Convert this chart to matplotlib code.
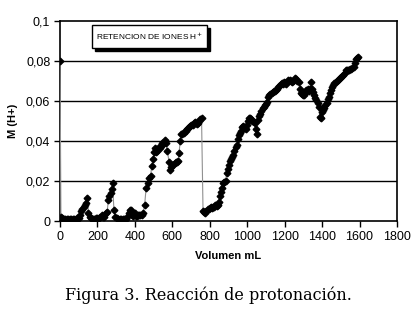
import matplotlib.pyplot as plt
from matplotlib.patches import Rectangle

plt.rcParams['font.family'] = ['Liberation Sans', 'DejaVu Sans']

# Volumen (mL) y M (H+)
volumen = [
    0, 5, 12, 20, 28, 36, 44, 52, 60, 68, 76, 84, 92, 100, 108, 114, 120, 126, 132, 138,
    145, 152, 160, 168, 176, 184, 192, 200, 208, 216, 222, 228, 236, 244, 252, 258, 264, 270, 276, 281,
    288, 296, 304, 312, 320, 328, 336, 344, 352, 360, 368, 374, 380, 386, 392, 398, 404, 410, 416, 422,
    428, 436, 444, 452, 460, 468, 476, 484, 490, 497, 503, 508, 514, 520, 527, 534, 540, 546, 552, 560,
    566, 574, 582, 588, 594, 600, 606, 612, 618, 624, 630, 636, 642, 648, 654, 660, 666, 672, 678, 684,
    690, 696, 702, 708, 714, 720, 726, 732, 738, 744, 750, 756, 764, 770, 776, 782, 788, 794, 800, 806,
    812, 818, 824, 830, 836, 842, 848, 854, 860, 866, 872, 878, 884, 890, 896, 902, 908, 914, 920, 926,
    932, 938, 944, 950, 956, 962, 968, 974, 980, 986, 992, 998, 1004, 1010, 1016, 1022, 1028, 1034, 1040, 1046,
    1052, 1058, 1064, 1070, 1076, 1082, 1088, 1094, 1100, 1106, 1112, 1118, 1124, 1130, 1136, 1142, 1148, 1154, 1160, 1166,
    1172, 1178, 1184, 1190, 1196, 1202, 1208, 1214, 1220, 1226, 1232, 1238, 1244, 1250, 1256, 1262, 1268, 1274, 1280, 1286,
    1292, 1298, 1304, 1310, 1316, 1322, 1328, 1334, 1340, 1346, 1352, 1358, 1364, 1370, 1376, 1382, 1388, 1394, 1400, 1406,
    1412, 1418, 1424, 1430, 1436, 1442, 1448, 1454, 1460, 1466, 1472, 1478, 1484, 1490, 1496, 1502, 1508, 1514, 1520, 1526,
    1532, 1538, 1544, 1550, 1556, 1562, 1568, 1574, 1580, 1586, 1592,
]
m_h = [
    0.080, 0.002, 0.0015, 0.0012, 0.0012, 0.0012, 0.0012, 0.0012, 0.0012, 0.0012, 0.0012, 0.0012, 0.0013, 0.0015, 0.003, 0.005, 0.006, 0.007, 0.008, 0.009,
    0.0115, 0.004, 0.002, 0.0015, 0.0012, 0.0012, 0.0013, 0.0015, 0.0015, 0.002, 0.003, 0.002, 0.002, 0.004, 0.0045, 0.0105, 0.0125, 0.014, 0.016, 0.019,
    0.0055, 0.002, 0.0015, 0.0012, 0.0012, 0.0012, 0.0012, 0.0012, 0.0008, 0.002, 0.004, 0.0055, 0.0055, 0.003, 0.0025, 0.004, 0.0025, 0.0025, 0.003, 0.003,
    0.003, 0.003, 0.004, 0.008, 0.0165, 0.019, 0.0215, 0.0225, 0.0275, 0.031, 0.0345, 0.0365, 0.0345, 0.035, 0.037, 0.0365, 0.0375, 0.039, 0.0385, 0.0405,
    0.039, 0.035, 0.0295, 0.0255, 0.027, 0.028, 0.028, 0.029, 0.0295, 0.0295, 0.030, 0.034, 0.040, 0.0435, 0.0435, 0.044, 0.045, 0.045, 0.046, 0.0465,
    0.047, 0.0475, 0.048, 0.048, 0.049, 0.0495, 0.049, 0.0485, 0.049, 0.050, 0.051, 0.0515, 0.005, 0.0045, 0.004, 0.005, 0.006, 0.006, 0.0065, 0.007,
    0.0065, 0.007, 0.007, 0.008, 0.0075, 0.008, 0.0095, 0.0125, 0.0145, 0.0165, 0.019, 0.0195, 0.020, 0.024, 0.026, 0.028, 0.030, 0.031, 0.032, 0.033,
    0.035, 0.037, 0.038, 0.041, 0.043, 0.044, 0.045, 0.047, 0.0475, 0.0465, 0.046, 0.048, 0.050, 0.0515, 0.0515, 0.051, 0.050, 0.0495, 0.049, 0.046,
    0.0435, 0.0505, 0.0525, 0.0535, 0.055, 0.0565, 0.057, 0.058, 0.0585, 0.0595, 0.062, 0.063, 0.0635, 0.064, 0.0645, 0.065, 0.065, 0.0655, 0.066, 0.067,
    0.0675, 0.0685, 0.069, 0.0685, 0.0695, 0.069, 0.0685, 0.0695, 0.0705, 0.0705, 0.070, 0.0695, 0.070, 0.0705, 0.0715, 0.071, 0.070, 0.0695, 0.066, 0.064,
    0.0635, 0.063, 0.063, 0.064, 0.0655, 0.066, 0.065, 0.066, 0.0695, 0.066, 0.0645, 0.063, 0.0615, 0.0605, 0.059, 0.057, 0.052, 0.0515, 0.0545, 0.0555,
    0.0565, 0.058, 0.059, 0.061, 0.062, 0.064, 0.0655, 0.067, 0.068, 0.069, 0.0695, 0.070, 0.0705, 0.071, 0.0715, 0.072, 0.0725, 0.073, 0.074, 0.0755,
    0.0755, 0.0755, 0.0755, 0.076, 0.076, 0.0765, 0.077, 0.079, 0.081, 0.0815, 0.082,
]

x_ticks = [0, 200, 400, 600, 800, 1000, 1200, 1400, 1600, 1800]
y_ticks = [0, 0.02, 0.04, 0.06, 0.08, 0.1]
y_labels = ['0', '0,02', '0,04', '0,06', '0,08', '0,1']

fig = plt.figure(figsize=(4.12, 3.17), dpi=100)
ax = fig.add_axes([60 / 412, 1 - 221 / 317, 337 / 412, 200 / 317])

ax.plot(volumen, m_h, color='#909090', lw=0.8, marker='D', ms=3.4,
        mfc='black', mec='black', zorder=3)

ax.set_xlim(0, 1800)
ax.set_ylim(0, 0.1)
ax.set_xticks(x_ticks)
ax.set_yticks(y_ticks)
ax.set_yticklabels(y_labels)
ax.tick_params(labelsize=9, length=4, width=1, direction='out', pad=3)
for y in y_ticks[1:-1]:
    ax.axhline(y, color='black', lw=1, zorder=1)
for s in ax.spines.values():
    s.set_linewidth(1.2)

ax.set_xlabel('Volumen mL', fontsize=8, fontweight='bold', labelpad=6)
ax.set_ylabel('M (H+)', fontsize=8, fontweight='bold', labelpad=6)

# recuadro con sombra
px2ax_x = lambda p: (p - 60) / 337
px2ax_y = lambda p: (221 - p) / 200
x0, x1, y0, y1 = px2ax_x(92), px2ax_x(207), px2ax_y(48), px2ax_y(25)
ax.add_patch(Rectangle((x0 + 3 / 337, y0 - 3 / 200), x1 - x0, y1 - y0,
                       transform=ax.transAxes, facecolor='black', edgecolor='black', zorder=4))
ax.add_patch(Rectangle((x0, y0), x1 - x0, y1 - y0, transform=ax.transAxes,
                       facecolor='white', edgecolor='black', lw=1, zorder=5))
ax.text((x0 + x1) / 2, (y0 + y1) / 2, 'RETENCION DE IONES H$^{+}$', transform=ax.transAxes,
        ha='center', va='center', fontsize=6, zorder=6)

fig.text(208 / 412, 1 - 295 / 317, 'Figura 3. Reacción de protonación.',
         ha='center', va='center', fontsize=11.5, family=['DejaVu Serif'])

fig.savefig('out.png', dpi=100)
